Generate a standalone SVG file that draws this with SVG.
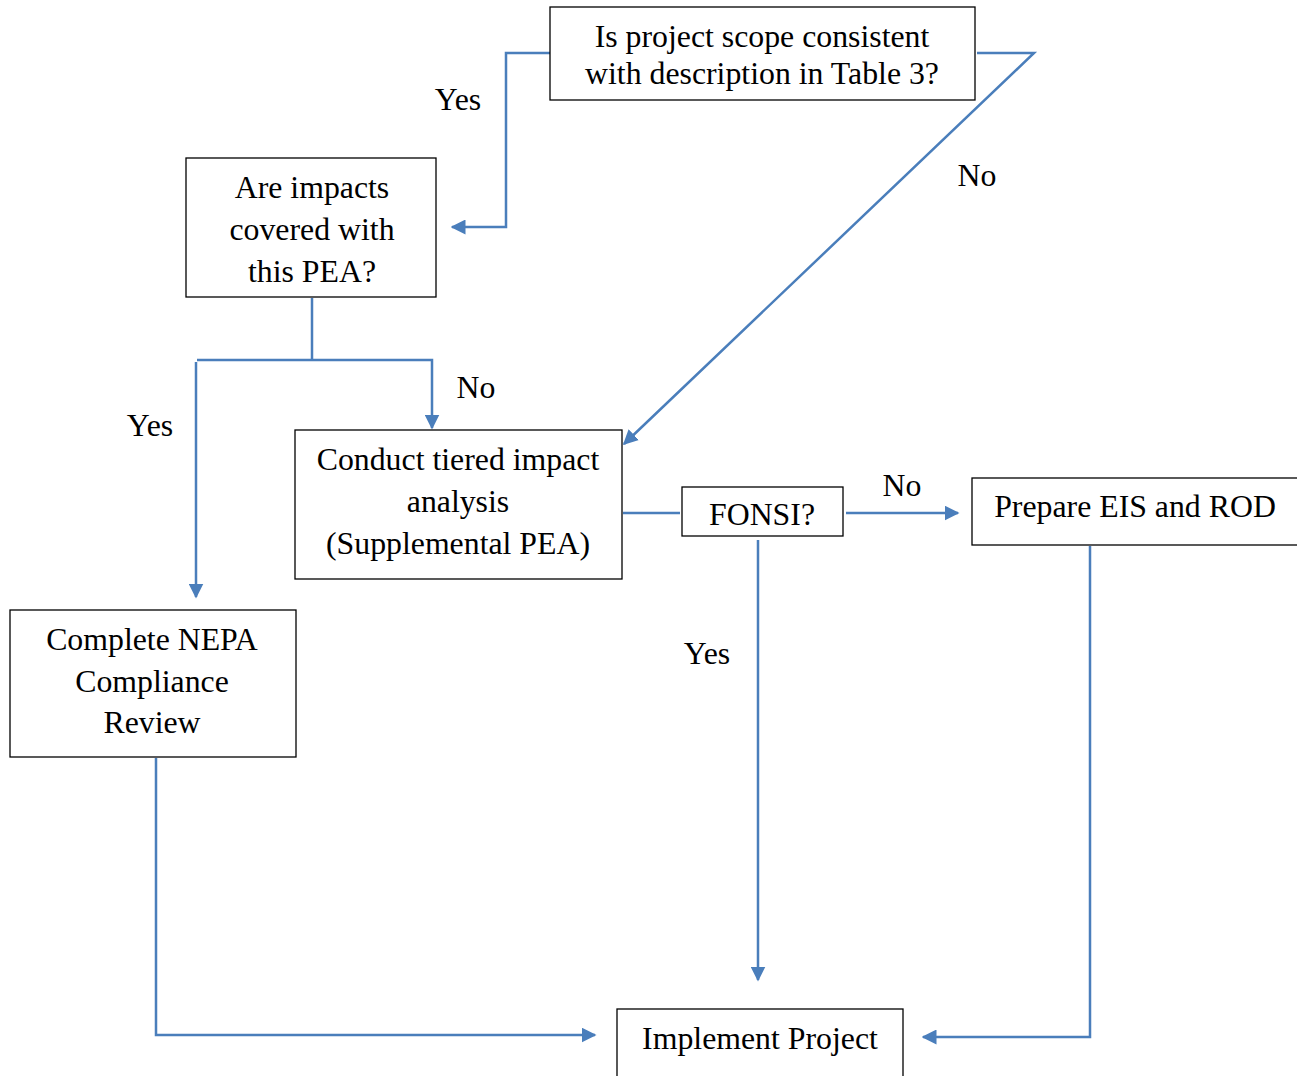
<svg xmlns="http://www.w3.org/2000/svg" width="1297" height="1076" viewBox="0 0 1297 1076">
<style>
.box{fill:#fff;stroke:#000;stroke-width:1.3}
.t{font-family:"Liberation Serif","Times New Roman",serif;font-size:31.8px;fill:#000;text-anchor:middle}
.c{fill:none;stroke:#4a7ebb;stroke-width:2.5}
</style>
<defs>
<marker id="ah" viewBox="0 0 10 10" refX="9" refY="5" markerWidth="6" markerHeight="6" markerUnits="strokeWidth" orient="auto">
<path d="M0,0 L10,5 L0,10 Z" fill="#4a7ebb"/>
</marker>
</defs>
<rect width="1297" height="1076" fill="#fff"/>
<g id="connectors">
<path class="c" d="M552,53 H506 V227 H452" marker-end="url(#ah)"/>
<path class="c" d="M977,53 H1034 L624,444" marker-end="url(#ah)"/>
<path class="c" d="M312,298 V360"/>
<path class="c" d="M197,360 H432 V428" marker-end="url(#ah)"/>
<path class="c" d="M196,362 V597" marker-end="url(#ah)"/>
<path class="c" d="M623,513 H680"/>
<path class="c" d="M846,513 H958" marker-end="url(#ah)"/>
<path class="c" d="M758,540 V980" marker-end="url(#ah)"/>
<path class="c" d="M156,758 V1035 H595" marker-end="url(#ah)"/>
<path class="c" d="M1090,546 V1037 H923" marker-end="url(#ah)"/>
</g>
<g id="labels">
<text class="t" x="458" y="110">Yes</text>
<text class="t" x="977" y="186">No</text>
<text class="t" x="150" y="436">Yes</text>
<text class="t" x="476" y="398">No</text>
<text class="t" x="902" y="496">No</text>
<text class="t" x="707" y="664">Yes</text>
</g>
<g id="scope">
<rect class="box" x="550" y="7" width="425" height="93"/>
<text class="t" x="762" y="47">Is project scope consistent</text>
<text class="t" x="762" y="84">with description in Table 3?</text>
</g>
<g id="impacts">
<rect class="box" x="186" y="158" width="250" height="139"/>
<text class="t" x="312" y="198">Are impacts</text>
<text class="t" x="312" y="240">covered with</text>
<text class="t" x="312" y="282">this PEA?</text>
</g>
<g id="tiered">
<rect class="box" x="295" y="430" width="327" height="149"/>
<text class="t" x="458" y="470">Conduct tiered impact</text>
<text class="t" x="458" y="512">analysis</text>
<text class="t" x="458" y="554">(Supplemental PEA)</text>
</g>
<g id="fonsi">
<rect class="box" x="682" y="487" width="161" height="49"/>
<text class="t" x="762" y="525">FONSI?</text>
</g>
<g id="eis">
<rect class="box" x="972" y="478" width="335" height="67"/>
<text class="t" x="1135" y="517">Prepare EIS and ROD</text>
</g>
<g id="nepa">
<rect class="box" x="10" y="610" width="286" height="147"/>
<text class="t" x="152" y="650">Complete NEPA</text>
<text class="t" x="152" y="692">Compliance</text>
<text class="t" x="152" y="733">Review</text>
</g>
<g id="implement">
<rect class="box" x="617" y="1009" width="286" height="80"/>
<text class="t" x="760" y="1049">Implement Project</text>
</g>
</svg>
